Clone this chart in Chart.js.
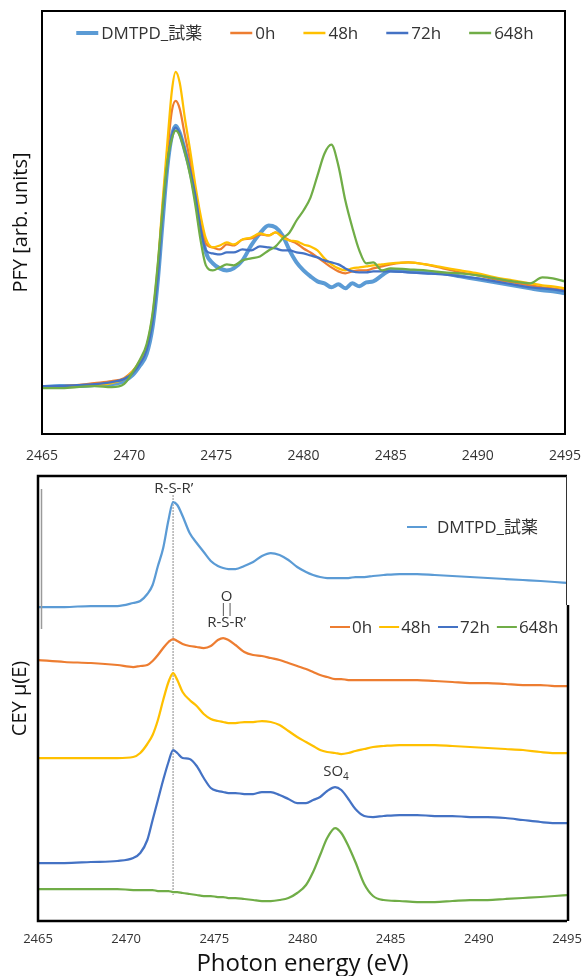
<!DOCTYPE html>
<html>
<head>
<meta charset="utf-8">
<script src="https://cdn.jsdelivr.net/npm/chart.js@4.4.0/dist/chart.umd.min.js"></script>
<style>
  body { margin: 0; background: #fff; width: 585px; height: 976px; overflow: hidden; position: relative; }
  #pfy { position: absolute; left: 0; top: 0; }
  #cey { position: absolute; left: 0; top: 468px; }
</style>
</head>
<body>
<canvas id="pfy" width="585" height="468"></canvas>
<canvas id="cey" width="585" height="508"></canvas>
<script>
const seriesNames = ['DMTPD_試薬', '0h', '48h', '72h', '648h'];
const seriesColors = ['#5B9BD5', '#ED7D31', '#FFC000', '#4472C4', '#70AD47'];
const xTicks = [2465, 2470, 2475, 2480, 2485, 2490, 2495];

// PFY (top panel), arb. units
const pfyEnergy = [2465, 2466, 2467, 2468, 2469, 2469.7, 2470.2, 2470.6, 2471, 2471.35, 2471.65,
  2471.9, 2472.2, 2472.45, 2472.67, 2472.9, 2473.2, 2473.5, 2473.8, 2474.1, 2474.4,
  2474.8, 2475.2, 2475.6, 2476, 2476.5, 2477, 2477.5, 2478, 2478.4, 2478.8,
  2479.2, 2479.6, 2480, 2480.4, 2480.8, 2481.2, 2481.6, 2482, 2482.4, 2482.8,
  2483.2, 2483.6, 2484, 2484.5, 2485, 2486, 2487, 2488, 2489, 2490,
  2491, 2492, 2493, 2493.7, 2494.3, 2495];
const pfyReagent = [47, 48, 48, 49, 50, 53, 59, 68, 80, 108, 155,
  209, 269, 299, 309, 302, 284, 264, 239, 209, 182,
  171, 166, 164, 166, 174, 189, 201, 209, 207, 199,
  184, 172, 164, 158, 153, 151, 147, 150, 146, 151,
  148, 152, 153, 159, 164, 163, 162, 161, 158, 155,
  152, 149, 146, 144, 143, 141];
const pfy0h = [48, 48, 49, 51, 53, 56, 63, 72, 86, 117, 166,
  224, 284, 324, 334, 326, 299, 274, 244, 212, 191,
  187, 185, 190, 189, 195, 196, 200, 199, 202, 198,
  194, 191, 186, 182, 177, 172, 167, 163, 161, 163,
  164, 164, 166, 168, 170, 172, 170, 166, 162, 159,
  155, 152, 149, 147, 146, 144];
const pfy48h = [47, 47, 48, 49, 51, 55, 63, 73, 88, 120, 170,
  229, 294, 344, 363, 352, 316, 284, 249, 219, 196,
  187, 189, 192, 190, 195, 197, 201, 199, 202, 197,
  194, 193, 190, 188, 184, 176, 170, 166, 164, 166,
  167, 168, 169, 170, 171, 172, 170, 167, 164, 161,
  157, 154, 151, 149, 148, 146];
const pfy72h = [48, 48, 49, 50, 52, 55, 61, 70, 84, 113, 160,
  216, 272, 299, 307, 301, 284, 264, 239, 206, 184,
  181, 180, 182, 182, 185, 184, 188, 187, 186, 184,
  184, 182, 181, 179, 177, 174, 172, 170, 166, 163,
  162, 162, 163, 163, 163, 162, 161, 160, 158, 156,
  153, 150, 147, 146, 145, 143];
const pfy648h = [46, 46, 47, 48, 47, 50, 62, 74, 90, 122, 172,
  222, 274, 296, 304, 299, 282, 259, 229, 194, 169,
  164, 167, 170, 169, 174, 176, 178, 184, 188, 196,
  202, 214, 224, 237, 259, 281, 290, 269, 234, 207,
  184, 171, 172, 164, 166, 165, 164, 162, 161, 159,
  156, 153, 151, 157, 156, 153];

// CEY (bottom panel), spectra stacked with offsets
const ceyEnergy = [2465, 2466.5, 2468, 2469.5, 2470.4, 2470.8, 2471.2, 2471.5, 2471.8, 2472.1,
  2472.4, 2472.66, 2472.9, 2473.2, 2473.6, 2474, 2474.4, 2474.8, 2475.2, 2475.5,
  2475.8, 2476.2, 2476.7, 2477.2, 2477.7, 2478.2, 2478.7, 2479.2, 2479.7, 2480.2,
  2480.6, 2481, 2481.4, 2481.85, 2482.2, 2482.6, 2483, 2483.5, 2484, 2484.6,
  2485.5, 2486.5, 2487.5, 2488.5, 2489.5, 2490.5, 2491.5, 2492.5, 2493.5, 2494.3, 2495];
const ceyReagent = [314, 314, 315, 315, 318, 320, 327, 336, 355, 373,
  401, 419, 416, 405, 388, 378, 369, 360, 355, 353,
  352, 352, 355, 359, 365, 368, 366, 361, 354, 349,
  346, 344, 343, 343, 343, 343, 344, 344, 345, 346,
  347, 347, 346, 345, 344, 343, 342, 341, 340, 339, 338];
const cey0h = [261, 259, 258, 256, 254, 255, 256, 260, 266, 273,
  279, 282, 280, 277, 275, 274, 273, 275, 281, 283,
  281, 276, 269, 266, 265, 263, 261, 258, 255, 252,
  249, 246, 244, 242, 242, 241, 241, 241, 241, 241,
  241, 241, 240, 239, 238, 238, 237, 236, 236, 235, 235];
const cey48h = [163, 163, 163, 163, 164, 168, 177, 186, 201, 221,
  239, 248, 241, 229, 221, 215, 207, 202, 200, 199,
  198, 198, 199, 199, 200, 199, 196, 190, 184, 179,
  175, 171, 169, 168, 167, 168, 170, 172, 174, 175,
  176, 176, 176, 175, 174, 173, 172, 171, 169, 168, 168];
const cey72h = [58, 58, 59, 60, 63, 68, 81, 101, 121, 141,
  159, 171, 168, 163, 162, 155, 143, 133, 130, 129,
  128, 128, 127, 127, 129, 129, 126, 122, 118, 118,
  121, 124, 130, 134, 131, 122, 112, 105, 104, 105,
  106, 106, 105, 105, 104, 104, 103, 101, 99, 98, 98];
const cey648h = [32, 32, 32, 32, 31, 31, 31, 31, 30, 30,
  30, 29, 29, 28, 27, 26, 25, 25, 24, 24,
  23, 23, 22, 21, 20, 20, 21, 23, 28, 36,
  49, 66, 83, 93, 88, 75, 59, 37, 25, 21,
  20, 19, 19, 20, 21, 21, 22, 23, 24, 25, 26];

// thin guide at the R-S-R' peak
const guideEnergy = [2472.66, 2472.66];
const guideLevel = [426, 26];

const FONT = "'Open Sans', 'Noto Sans CJK JP', sans-serif";

function pts(xs, ys) {
  return xs.map((x, i) => ({ x: x, y: ys[i] }));
}

function makeSets(xs, groups, widths) {
  return groups.map((ys, i) => ({
    label: seriesNames[i],
    data: pts(xs, ys),
    borderColor: seriesColors[i],
    borderWidth: widths[i],
    pointRadius: 0,
    cubicInterpolationMode: 'monotone',
    order: 10 - i
  }));
}

// legend drawn inside the frame, like the original
function legendPlugin(rows) {
  return {
    id: 'innerLegend',
    afterDatasetsDraw(chart) {
      const ctx = chart.ctx;
      ctx.save();
      ctx.font = '17px ' + FONT;
      ctx.textBaseline = 'middle';
      rows.forEach(row => {
        const sets = row.items.map(i => chart.data.datasets[i]);
        const widths = sets.map(ds => row.line + row.gap + ctx.measureText(ds.label).width);
        const total = widths.reduce((a, b) => a + b, 0) + row.spacing * (sets.length - 1);
        let x = row.center !== undefined ? row.center - total / 2 : row.x;
        sets.forEach((ds, k) => {
          ctx.strokeStyle = ds.borderColor;
          ctx.lineWidth = row.widths[k];
          ctx.beginPath();
          ctx.moveTo(x, row.y);
          ctx.lineTo(x + row.line, row.y);
          ctx.stroke();
          ctx.fillStyle = '#333';
          ctx.fillText(ds.label, x + row.line + row.gap, row.y + 1);
          x += widths[k] + row.spacing;
        });
      });
      ctx.restore();
    }
  };
}

function framePlugin(lw, splitY) {
  return {
    id: 'frame',
    afterDraw(chart) {
      const { ctx, chartArea: a } = chart;
      ctx.save();
      ctx.strokeStyle = '#000';
      ctx.lineWidth = lw;
      ctx.beginPath();
      ctx.moveTo(a.right, a.top);
      ctx.lineTo(a.left, a.top);
      ctx.lineTo(a.left, a.bottom);
      ctx.lineTo(a.right, a.bottom);
      if (splitY === undefined) {
        ctx.lineTo(a.right, a.top);
        ctx.closePath();
      }
      ctx.stroke();
      if (splitY !== undefined) {
        ctx.beginPath();
        ctx.moveTo(a.right + 1, a.bottom);
        ctx.lineTo(a.right + 1, splitY);
        ctx.stroke();
        ctx.lineWidth = 1;
        ctx.strokeStyle = '#333';
        ctx.beginPath();
        ctx.moveTo(a.right - 0.5, a.top);
        ctx.lineTo(a.right - 0.5, splitY);
        ctx.stroke();
        // leftover grey mark beside the left edge
        ctx.strokeStyle = '#9a9a9a';
        ctx.lineWidth = 1.5;
        ctx.beginPath();
        ctx.moveTo(a.left + 3.5, a.top + 13);
        ctx.lineTo(a.left + 3.5, a.top + 153);
        ctx.stroke();
      }
      ctx.restore();
    }
  };
}

const notes = [
  { e: 2472.7, v: 432, text: 'R-S-R’' },
  { e: 2475.7, v: 324, text: 'O' },
  { e: 2475.7, v: 311, text: '||' },
  { e: 2475.7, v: 298, text: 'R-S-R’' },
  { e: 2481.9, v: 149, text: 'SO', sub: '4' }
];

const notePlugin = {
  id: 'notes',
  afterDatasetsDraw(chart) {
    const { ctx, scales } = chart;
    ctx.save();
    ctx.fillStyle = '#333';
    ctx.textBaseline = 'middle';
    notes.forEach(n => {
      const x = scales.x.getPixelForValue(n.e);
      const y = scales.y.getPixelForValue(n.v);
      ctx.font = '15px ' + FONT;
      if (n.sub) {
        const w = ctx.measureText(n.text).width;
        ctx.font = '10px ' + FONT;
        const ws = ctx.measureText(n.sub).width;
        const x0 = x - (w + ws) / 2;
        ctx.textAlign = 'left';
        ctx.font = '15px ' + FONT;
        ctx.fillText(n.text, x0, y);
        ctx.font = '10px ' + FONT;
        ctx.fillText(n.sub, x0 + w, y + 5);
      } else {
        ctx.textAlign = 'center';
        if (n.text === '||') ctx.font = '12px ' + FONT;
        ctx.fillText(n.text, x, y);
      }
    });
    ctx.restore();
  }
};

function xAxis(tickSize, tickPad, height, title) {
  return {
    type: 'linear',
    min: 2465,
    max: 2495,
    grid: { display: false, drawTicks: false },
    border: { display: false },
    afterBuildTicks: s => { s.ticks = xTicks.map(v => ({ value: v })); },
    afterFit: s => {
      s.height = height;
      s.paddingLeft = 0;
      s.paddingRight = 0;
    },
    ticks: {
      padding: tickPad,
      maxRotation: 0,
      autoSkip: false,
      color: '#333',
      font: { family: FONT, size: tickSize },
      callback: v => String(v)
    },
    title: title ? {
      display: true,
      text: title,
      color: '#111',
      padding: 0,
      font: { family: FONT, size: 24, lineHeight: 1 }
    } : { display: false }
  };
}

function yAxis(max, width, title, pad) {
  return {
    min: 0,
    max: max,
    grid: { display: false, drawTicks: false },
    border: { display: false },
    ticks: { display: false },
    afterFit: s => { s.width = width; },
    title: {
      display: true,
      text: title,
      color: '#111',
      padding: { top: pad, bottom: 0 },
      font: { family: FONT, size: 20 }
    }
  };
}

const common = {
  responsive: false,
  animation: false,
  plugins: { legend: { display: false }, tooltip: { enabled: false } }
};

new Chart(document.getElementById('pfy'), {
  type: 'line',
  data: {
    datasets: makeSets(pfyEnergy, [pfyReagent, pfy0h, pfy48h, pfy72h, pfy648h], [4, 2.25, 2.25, 2.25, 2.25])
  },
  options: Object.assign({}, common, {
    layout: { padding: { left: 0, top: 11, right: 20, bottom: 0 } },
    scales: {
      x: xAxis(14, 14, 34),
      y: yAxis(424, 42, 'PFY [arb. units]', 9)
    }
  }),
  plugins: [
    framePlugin(2),
    legendPlugin([{ center: 305, y: 33, line: 22, gap: 3, spacing: 28, items: [0, 1, 2, 3, 4], widths: [4, 2.5, 2.5, 2.5, 2.5] }])
  ]
});

const ceySets = makeSets(ceyEnergy, [ceyReagent, cey0h, cey48h, cey72h, cey648h], [2.25, 2.25, 2.25, 2.25, 2.25]);
ceySets.push({
  label: 'guide',
  data: pts(guideEnergy, guideLevel),
  borderColor: '#8a8a8a',
  borderWidth: 1,
  borderDash: [2, 1],
  pointRadius: 0,
  order: 20
});

new Chart(document.getElementById('cey'), {
  type: 'line',
  data: { datasets: ceySets },
  options: Object.assign({}, common, {
    layout: { padding: { left: 0, top: 8, right: 18, bottom: 0 } },
    scales: {
      x: xAxis(13, 10, 55, 'Photon energy (eV)'),
      y: yAxis(445, 38, 'CEY μ(E)', 8)
    }
  }),
  plugins: [
    framePlugin(2.5, 137),
    notePlugin,
    legendPlugin([
      { x: 407, y: 59, line: 20, gap: 10, spacing: 9, items: [0], widths: [2] },
      { x: 330, y: 159, line: 20, gap: 2, spacing: 7, items: [1, 2, 3, 4], widths: [2, 2, 2, 2] }
    ])
  ]
});
</script>
</body>
</html>
